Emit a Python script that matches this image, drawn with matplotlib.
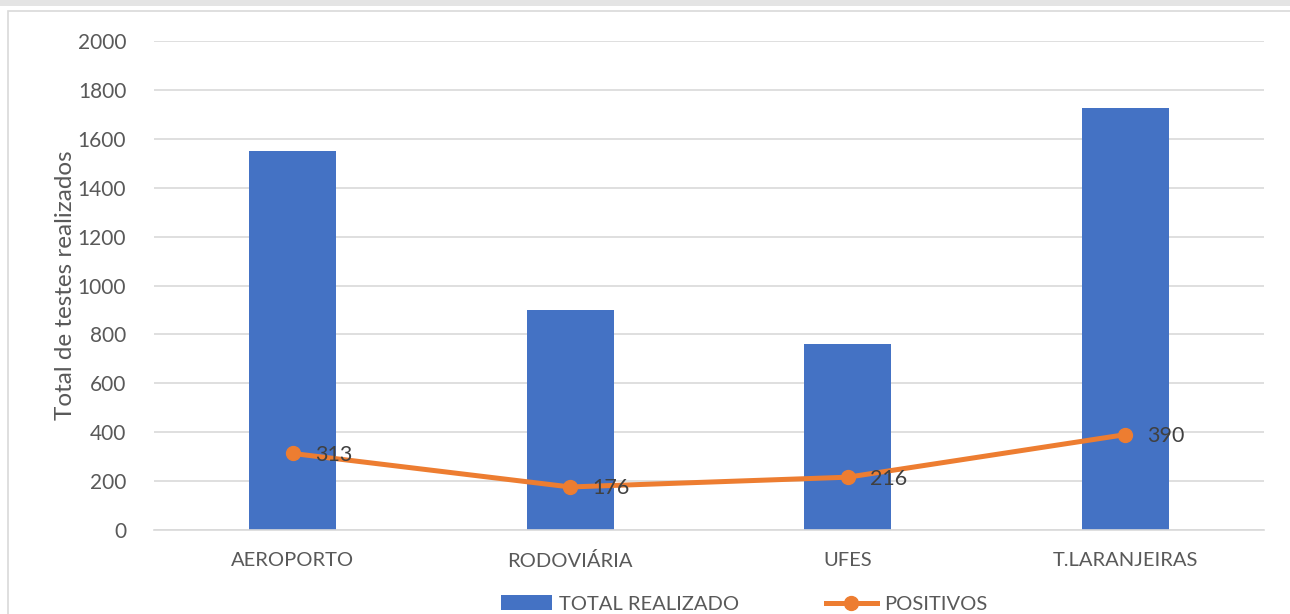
from matplotlib import pyplot as plt
from matplotlib.patches import Rectangle
import matplotlib

# dados
locais = ["AEROPORTO", "RODOVIÁRIA", "UFES", "T.LARANJEIRAS"]
total_realizado = [1550, 900, 760, 1727]
positivos = [313, 176, 216, 390]

matplotlib.rc("font", family=["Lato", "DejaVu Sans"], size=15)

azul = "#4472C4"
laranja = "#ED7D31"
cinza_texto = "#595959"

fig = plt.figure(figsize=(12.9, 6.14), dpi=100)
fig.patch.set_facecolor("white")

# faixa cinza no topo e moldura do gráfico
fig.patches.append(Rectangle((0, 1 - 6 / 614), 1, 6 / 614, transform=fig.transFigure,
                             facecolor="#e4e4e4", edgecolor="none"))
fig.patches.append(Rectangle((8 / 1290, -0.1), 1.2, 1.1 - 11 / 614, transform=fig.transFigure,
                             facecolor="none", edgecolor="#d9d9d9", linewidth=1.2))

ax = fig.add_axes([154 / 1290, 1 - 530 / 614, (1264 - 154) / 1290, (530 - 41) / 614])

x = range(len(locais))
barras = ax.bar(x, total_realizado, width=0.313, color=azul, label="TOTAL REALIZADO", zorder=2)
linha, = ax.plot(x, positivos, color=laranja, linewidth=3.6, marker="o", markersize=10,
                 label="POSITIVOS", zorder=3)

for i, v in zip(x, positivos):
    ax.annotate(str(v), (i, v), xytext=(16, -1), textcoords="offset points",
                ha="left", va="center", color="#404040", fontsize=15.5, zorder=4)

ax.set_xlim(-0.5, len(locais) - 0.5)
ax.set_ylim(0, 2000)
ax.set_yticks(range(0, 2001, 200))
ax.set_xticks(list(x))
ax.set_xticklabels(locais, fontsize=14.5)

ax.grid(axis="y", color="#d9d9d9", linewidth=1.2, zorder=0)
ax.set_axisbelow(True)
for s in ["top", "right", "left"]:
    ax.spines[s].set_visible(False)
ax.spines["bottom"].set_color("#d9d9d9")
ax.spines["bottom"].set_linewidth(1.2)

ax.tick_params(axis="both", length=0, colors=cinza_texto)
ax.tick_params(axis="y", labelsize=15, pad=20)
ax.tick_params(axis="x", pad=16)

ax.set_ylabel("Total de testes realizados", color=cinza_texto, fontsize=17.5, labelpad=1)

fig.legend([barras, linha], ["TOTAL REALIZADO", "POSITIVOS"], loc="center",
           bbox_to_anchor=(744 / 1290, 1 - 604 / 614), ncol=2,
           frameon=False, fontsize=14.5, columnspacing=4.3, handlelength=2.55,
           handletextpad=0.35, labelcolor=cinza_texto)

plt.savefig("out.png", dpi=100)
